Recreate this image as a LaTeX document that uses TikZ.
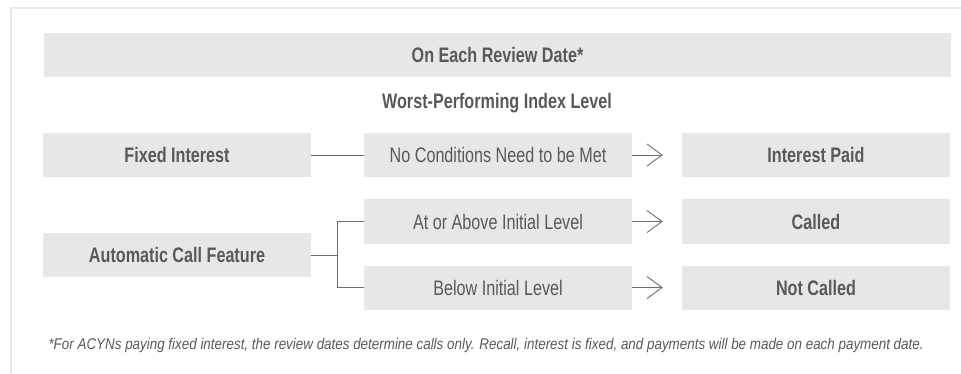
\documentclass[tikz,border=0pt]{standalone}
\usepackage{fontspec}
\setmainfont{Liberation Sans}[FakeStretch=0.77]
\newfontfamily\notefont{Liberation Sans}[FakeStretch=0.865]
\usetikzlibrary{arrows.meta}

\definecolor{boxgray}{RGB}{230,231,232}
\definecolor{textgray}{RGB}{88,89,91}
\definecolor{linegray}{RGB}{109,110,113}
\definecolor{framegray}{RGB}{233,233,234}

\tikzset{
	box/.style={fill=boxgray,text=textgray,minimum width=268pt,minimum height=44pt,
		inner sep=0pt,font=\fontsize{21}{25}\selectfont},
	boldbox/.style={box,font=\fontsize{21}{25}\bfseries\selectfont},
	link/.style={draw=linegray,line width=0.9pt}
}

\begin{document}
\begin{tikzpicture}[x=1pt,y=-1pt,cap=round,>={Straight Barb[length=15pt,width=22pt]}]
		\useasboundingbox (0,0) rectangle (961,374);

		% draw the frame
		\draw[framegray,line width=2.5pt,line cap=butt] (11,374) -- (11,8) -- (961,8);

		% the heading
		\node[boldbox,minimum width=907pt] (review) at (497.5,55) {On Each Review Date*};
		\node[text=textgray,font=\fontsize{21}{25}\bfseries\selectfont] (worst) at (497,103) {Worst-Performing Index Level};

		% the features on the left
		\node[boldbox] (fixed) at (177,155) {Fixed Interest};
		\node[boldbox] (autocall) at (177,255) {Automatic Call Feature};

		% the conditions in the middle
		\node[box] (nocond) at (498,155) {No Conditions Need to be Met};
		\node[box] (above) at (498,221.5) {At or Above Initial Level};
		\node[box] (below) at (498,287.5) {Below Initial Level};

		% the outcomes on the right
		\node[boldbox] (paid) at (816,155) {Interest Paid};
		\node[boldbox] (called) at (816,221.5) {Called};
		\node[boldbox] (notcalled) at (816,287.5) {Not Called};

		% draw the connectors
		\draw[link] (fixed) -- (nocond);
		\draw[link] (autocall.east) -- ++(26,0) |- (above.west);
		\draw[link] (autocall.east) -- ++(26,0) |- (below.west);
		\foreach \a/\b in {nocond/paid,above/called,below/notcalled}
			\draw[link,->,shorten >=19pt] (\a) -- (\b);

		% the footnote
		\node[anchor=west,text=textgray,font=\notefont\fontsize{15.5}{18}\itshape\selectfont] (note) at (45,345)
			{*For ACYNs paying fixed interest, the review dates determine calls only. Recall, interest is fixed, and payments will be made on each payment date.};
	\end{tikzpicture}
\end{document}
